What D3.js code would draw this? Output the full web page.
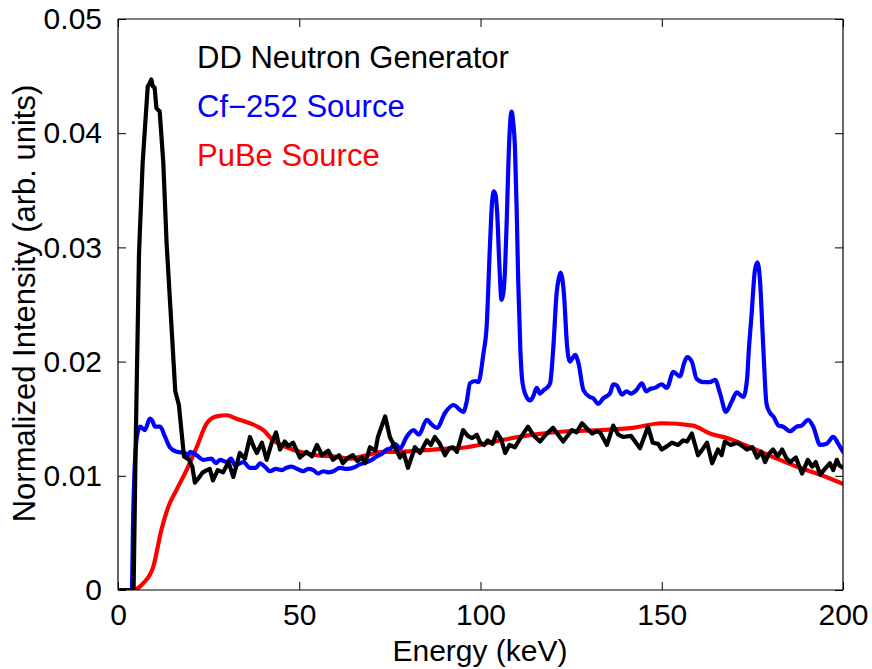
<!DOCTYPE html>
<html><head><meta charset="utf-8">
<script src="https://cdn.jsdelivr.net/npm/d3@7"></script>
<style>body{margin:0;background:#fff}svg{display:block}text{font-family:"Liberation Sans",Arial,Helvetica,sans-serif}</style>
</head><body><svg id="c" width="872" height="669"></svg>
<script>
const xTicks = [0, 50, 100, 150, 200];
const yTicks = [0, 0.01, 0.02, 0.03, 0.04, 0.05];
const yTickLabels = ["0", "0.01", "0.02", "0.03", "0.04", "0.05"];
const seriesNames = ["DD Neutron Generator", "Cf\u2212252 Source", "PuBe Source"];
const seriesColors = ["#000000", "#0000ff", "#ff0000"];

const ddEnergy = [0,4.3,4.9,5.8,6.8,8.2,8.6,9.2,9.6,10.1,10.6,11.5,12.5,13.4,14.9,15.8,16.8,18.2,19.6,20.5,21.2,22,23.4,24.5,25.3,26.2,27.5,29,30.5,31.8,33.6,35,36.4,37.5,38.3,39.7,41,42.3,43.6,44.7,46,47,48.3,50.2,52,53.5,54.9,56.3,58,59.3,61,62,63.5,64.8,66,67.3,68.2,69.5,71,71.7,73.7,75,76.4,77.8,78.8,80,81.9,83.3,85.2,86.3,87.4,88.8,90.2,91.3,92.4,93.5,95.2,96.5,97.7,99,99.9,101,102,103.3,104.5,105.7,106.8,108,109.5,111,113.1,114.7,116.4,118,120,121.4,122.8,124,125.2,126.5,128,129.5,130.8,132,133,134.9,136.6,138,139.3,141.5,144,146.2,147.5,149,150,151.5,152.8,154.5,155.9,157,158.3,160,161,162.5,163.9,165.5,166.5,167.4,169,170.8,172.2,173.5,175,176.3,177.5,178.5,179.5,180.7,182,183.2,184.3,185.4,187,188.7,190.3,191.5,192.5,193.7,195,196.4,197.3,198.3,199,200];
const ddIntensity = [0,0,0.0132,0.0295,0.0374,0.0441,0.0443,0.0447,0.0441,0.044,0.0422,0.0419,0.0374,0.0304,0.0223,0.0174,0.0162,0.0117,0.0114,0.0108,0.0094,0.0097,0.0103,0.0105,0.0106,0.0096,0.0105,0.0103,0.0112,0.0099,0.012,0.0115,0.0134,0.0125,0.012,0.0129,0.0114,0.0128,0.0138,0.0123,0.013,0.0126,0.0129,0.0116,0.0121,0.0117,0.0127,0.0118,0.0122,0.0114,0.0118,0.0111,0.0116,0.0118,0.0113,0.0116,0.0111,0.0125,0.0122,0.0134,0.0152,0.0134,0.0125,0.0116,0.012,0.0107,0.0125,0.012,0.0131,0.0127,0.0134,0.0128,0.0118,0.0124,0.0125,0.0121,0.014,0.0135,0.0133,0.0136,0.0129,0.0127,0.0131,0.0128,0.0138,0.0132,0.012,0.0127,0.0125,0.0133,0.0143,0.0135,0.013,0.0136,0.0142,0.0136,0.013,0.0135,0.014,0.0138,0.0146,0.0141,0.0137,0.0139,0.0138,0.0127,0.0144,0.0136,0.0134,0.0135,0.0124,0.0143,0.0129,0.0128,0.0123,0.0126,0.0129,0.0127,0.0131,0.013,0.0137,0.0118,0.0122,0.0129,0.0111,0.0123,0.0118,0.013,0.0127,0.0129,0.0126,0.0123,0.0125,0.0116,0.0121,0.0112,0.0119,0.0123,0.0117,0.0123,0.0116,0.0112,0.0116,0.0102,0.0114,0.0108,0.0112,0.0101,0.0106,0.0111,0.0105,0.0114,0.0109,0.0107];

const cfEnergy = [0,3.8,4.2,5.2,6.1,7.4,8.8,9.5,10.2,11.6,13,14.3,16.2,18.5,19.2,19.9,21.7,23.5,25.8,27,28.1,30,31.2,32.3,34.6,36.4,38,39.2,40.5,41.9,43.5,45.2,46.5,47.9,49.5,51.1,52.5,53.9,55.2,56.6,58,59.4,61.2,63,64.9,66.7,68.6,70,71.4,72.7,74.1,75.2,76.4,77.8,79.6,81.5,83,85.2,86.5,88,90.2,92.5,95.3,96.2,97.1,98.5,99.4,100.8,101.7,102.6,103.2,103.7,104.2,104.6,105.2,105.8,106.3,106.8,107.3,107.7,108.2,108.6,109,109.5,110,110.4,111,111.4,112,112.7,113.7,114.6,115.5,116.4,117.4,118.3,119.2,120.1,121,121.6,122.1,122.6,123,123.9,124.7,125.4,126.1,127,128.4,130.2,131.1,132.5,133.9,135.7,136.6,137.6,139,140.3,141.5,143,144.5,145.7,146.8,148.1,150,151.4,153.2,155,156.2,157,158.3,159.6,161.5,163.3,164.7,166.1,167.7,169.3,170.7,172.5,173.6,173.9,174.8,175.7,176.4,177.1,178,178.9,179.9,180.8,182.2,183.5,185.4,187.2,188.6,190.4,191.8,193.7,195.5,197.3,198.7,200];
const cfIntensity = [0,0,0.0067,0.0134,0.0143,0.014,0.015,0.0148,0.0143,0.0143,0.0134,0.0125,0.0121,0.012,0.0117,0.0121,0.0118,0.0114,0.0115,0.0111,0.0114,0.0112,0.0115,0.0109,0.0112,0.0107,0.0107,0.0111,0.0108,0.0104,0.0106,0.0105,0.0107,0.0108,0.0106,0.0104,0.0106,0.0105,0.0102,0.0104,0.0103,0.0104,0.0107,0.0106,0.0107,0.011,0.0112,0.0114,0.0117,0.0119,0.0123,0.0124,0.0128,0.0124,0.0134,0.014,0.0136,0.0149,0.0145,0.0142,0.0155,0.0162,0.0156,0.0165,0.0181,0.0183,0.0182,0.0207,0.0231,0.0301,0.034,0.0349,0.0345,0.033,0.0285,0.0254,0.026,0.0283,0.033,0.0374,0.041,0.0419,0.041,0.0388,0.033,0.0271,0.021,0.0187,0.0175,0.0169,0.0166,0.017,0.0177,0.0172,0.0175,0.0177,0.0181,0.0213,0.026,0.0273,0.0278,0.0272,0.026,0.0213,0.02,0.0203,0.0206,0.0199,0.0175,0.0169,0.0168,0.0163,0.0168,0.0172,0.018,0.0179,0.0171,0.0174,0.0172,0.0175,0.0181,0.0174,0.0176,0.0177,0.018,0.0177,0.0191,0.0187,0.0199,0.0204,0.02,0.0185,0.0182,0.0182,0.0184,0.0172,0.0156,0.0165,0.0173,0.0169,0.0187,0.0204,0.0242,0.028,0.0287,0.0271,0.0213,0.0163,0.0155,0.0152,0.0144,0.0143,0.0139,0.0143,0.0144,0.0149,0.0143,0.0127,0.0128,0.0134,0.0128,0.0121];

const pubeEnergy = [0,4.1,7,9.7,12,13.9,16.2,18.9,21.7,24.5,27.2,30,32.7,36.4,40.1,42.8,46.5,50.2,54.8,59.4,64,68.6,73.2,77.8,87,96.2,105.4,114.5,123.8,133,142,150,158.6,163.3,168,174.3,181.8,188.1,193.7,200];
const pubeIntensity = [0,0,0.0006,0.002,0.0053,0.0073,0.0088,0.0105,0.0125,0.0146,0.0152,0.0153,0.015,0.0146,0.014,0.0131,0.0125,0.0121,0.0118,0.0117,0.0115,0.0118,0.0121,0.0121,0.0123,0.0125,0.0131,0.0136,0.0139,0.014,0.0142,0.0146,0.0144,0.0137,0.0133,0.0125,0.0115,0.0107,0.0101,0.0093];

const svg = d3.select("#c");
const L = 118, R = 843, T = 19, B = 590;
const x = d3.scaleLinear().domain([0, 200]).range([L, R]);
const y = d3.scaleLinear().domain([0, 0.05]).range([B, T]);

svg.append("defs").append("clipPath").attr("id","clip")
  .append("rect").attr("x",L).attr("y",T-2).attr("width",R-L).attr("height",B-T+2);

const plot = svg.append("g").attr("clip-path","url(#clip)");
const mk = (E, I) => E.map((e,i)=>[e, I[i]]);
const series = [
  {data: mk(pubeEnergy, pubeIntensity), color: seriesColors[2], curve: d3.curveMonotoneX},
  {data: mk(cfEnergy, cfIntensity), color: seriesColors[1], curve: d3.curveMonotoneX},
  {data: mk(ddEnergy, ddIntensity), color: seriesColors[0], curve: d3.curveLinear}
];
series.forEach(s => {
  plot.append("path").datum(s.data)
    .attr("fill","none").attr("stroke",s.color).attr("stroke-width",4.2)
    .attr("stroke-linejoin","round").attr("stroke-linecap","round")
    .attr("d", d3.line().x(d=>x(d[0])).y(d=>y(d[1])).curve(s.curve));
});

// axes box
const fs = 30;
const axB = svg.append("g").attr("transform",`translate(0,${B})`)
  .call(d3.axisBottom(x).tickValues(xTicks).tickSize(-8).tickPadding(14).tickFormat(d3.format("d")));
const axT = svg.append("g").attr("transform",`translate(0,${T})`)
  .call(d3.axisTop(x).tickValues(xTicks).tickSize(-8).tickFormat(""));
const axL = svg.append("g").attr("transform",`translate(${L},0)`)
  .call(d3.axisLeft(y).tickValues(yTicks).tickSize(-8).tickPadding(16).tickFormat((d,i)=>yTickLabels[i]));
const axR = svg.append("g").attr("transform",`translate(${R},0)`)
  .call(d3.axisRight(y).tickValues(yTicks).tickSize(-8).tickFormat(""));
[axB, axT, axL, axR].forEach(a => {
  a.select(".domain").attr("stroke","#000").attr("stroke-width",1.2);
  a.selectAll(".tick line").attr("stroke","#000").attr("stroke-width",1);
  a.selectAll("text").attr("font-size",fs).attr("fill","#000")
    .style("font-family",'"Liberation Sans",Arial,sans-serif');
});
axB.selectAll(".domain").attr("d",`M${L},0H${R}`);
axT.selectAll(".domain").attr("d",`M${L},0H${R}`);
axL.selectAll(".domain").attr("d",`M0,${B}V${T}`);
axR.selectAll(".domain").attr("d",`M0,${B}V${T}`);

svg.append("text").attr("x",480).attr("y",661).attr("text-anchor","middle")
  .attr("font-size",fs).text("Energy (keV)");
svg.append("text").attr("transform",`translate(35,303.5) rotate(-90)`)
  .attr("text-anchor","middle").attr("font-size",31).text("Normalized Intensity (arb. units)");

const legY = [68, 117, 166];
seriesNames.forEach((n,i) => {
  svg.append("text").attr("x",197).attr("y",legY[i]).attr("font-size",31)
    .attr("fill",seriesColors[i]).text(n);
});
</script></body></html>
